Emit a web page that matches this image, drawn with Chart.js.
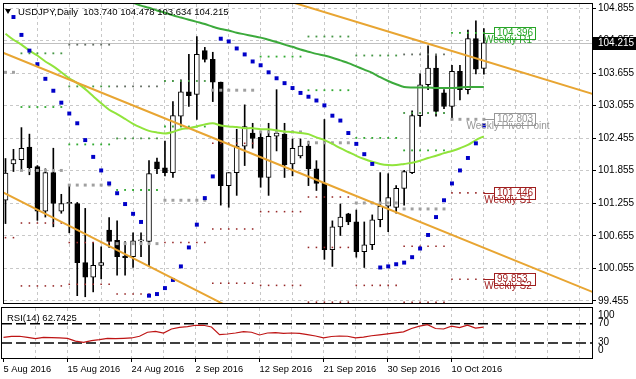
<!DOCTYPE html>
<html>
<head>
<meta charset="utf-8">
<title>USDJPY Daily</title>
<script src="https://cdn.jsdelivr.net/npm/chart.js@4.4.1/dist/chart.umd.min.js"></script>
<style>
  html, body { margin: 0; padding: 0; background: #ffffff; }
  #wrap { position: relative; width: 636px; height: 379px; overflow: hidden; background: #ffffff; }
  canvas { position: absolute; left: 0; }
  #priceChart { top: 0; }
  #rsiChart { top: 307px; }
</style>
</head>
<body>
<div id="wrap">
  <canvas id="priceChart" width="636" height="307"></canvas>
  <canvas id="rsiChart" width="636" height="72"></canvas>
</div>
<script>
// bar 0 = Fri 5 Aug 2016, the feed has Sunday bars (6 per week)
const titleText = "USDJPY,Daily  103.740 104.478 103.634 104.215";
const rsiTitle = "RSI(14) 62.7425";
const lastPrice = 104.215;

const opens  = [101.31, 101.98, 102.06, 102.29, 101.93, 101.11, 101.82, 101.11, 101.25, 101.25,
                100.16, 99.89, 100.11, 100.76, 100.57, 100.28, 100.27, 100.56, 100.55, 102.02,
                101.91, 101.82, 102.86, 103.31, 103.26, 104.07, 103.91, 103.49, 101.58, 101.82,
                102.31, 102.55, 102.47, 101.73, 102.49, 102.53, 101.98, 102.13, 102.31, 101.89,
                101.62, 100.40, 100.82, 101.06, 100.91, 100.36, 100.49, 100.95, 101.20, 101.18,
                101.53, 101.82, 102.87, 103.44, 103.75, 103.29, 103.04, 103.69, 103.35, 104.29,
                103.74];
const highs  = [102.08, 102.25, 102.65, 102.53, 101.95, 101.89, 102.27, 101.42, 101.60, 101.27,
                101.16, 100.53, 100.45, 100.99, 100.93, 100.55, 100.71, 100.71, 102.04, 102.09,
                102.40, 103.13, 103.53, 104.00, 104.33, 104.13, 104.04, 103.49, 101.82, 102.62,
                103.07, 102.73, 102.55, 102.73, 103.35, 102.73, 102.44, 102.44, 102.40, 102.04,
                102.80, 100.93, 101.24, 101.07, 101.13, 100.91, 101.04, 101.82, 101.80, 101.58,
                101.86, 102.96, 103.64, 104.16, 103.98, 103.35, 103.80, 103.80, 104.45, 104.62,
                104.478];
const lows   = [100.88, 101.84, 101.89, 101.78, 100.94, 101.00, 100.82, 101.07, 100.71, 99.55,
                99.53, 99.62, 99.86, 100.44, 99.93, 99.93, 100.07, 100.27, 100.09, 101.80,
                101.76, 101.73, 102.67, 103.04, 102.80, 103.86, 103.13, 101.22, 101.18, 101.40,
                101.95, 102.27, 101.55, 101.40, 102.22, 101.73, 101.76, 102.09, 101.58, 101.49,
                100.22, 100.09, 100.66, 100.86, 100.26, 100.07, 100.40, 100.82, 100.73, 101.07,
                101.22, 101.80, 102.67, 103.35, 102.86, 103.00, 102.80, 103.16, 103.27, 103.64,
                103.634];
const closes = [101.81, 102.06, 102.27, 101.91, 101.11, 101.82, 101.25, 101.25, 101.27, 100.16,
                99.89, 100.11, 100.16, 100.55, 100.27, 100.25, 100.56, 100.58, 101.80, 101.89,
                101.82, 102.87, 103.31, 103.24, 104.00, 103.91, 103.49, 101.58, 101.82, 102.31,
                102.67, 102.45, 101.73, 102.49, 102.55, 101.96, 102.27, 102.31, 101.89, 101.62,
                100.40, 100.82, 101.00, 100.91, 100.36, 100.49, 100.95, 101.20, 101.36, 101.53,
                101.84, 102.87, 103.44, 103.75, 102.95, 103.04, 103.69, 103.35, 104.29, 103.73,
                104.215];

const fastMA = [104.38, 104.27, 104.18, 104.07, 103.98, 103.87, 103.78, 103.67, 103.56, 103.47,
                103.36, 103.23, 103.10, 102.98, 102.90, 102.81, 102.72, 102.65, 102.59, 102.56,
                102.54, 102.57, 102.62, 102.64, 102.67, 102.71, 102.73, 102.69, 102.67, 102.66,
                102.64, 102.64, 102.62, 102.62, 102.60, 102.58, 102.57, 102.55, 102.53, 102.47,
                102.42, 102.35, 102.27, 102.20, 102.13, 102.07, 102.02, 101.98, 101.96, 101.96,
                101.98, 102.00, 102.04, 102.09, 102.13, 102.18, 102.22, 102.27, 102.33, 102.42,
                102.49];
const slowMA = [null, null, null, null, null, null, null, null, null, null,
                null, null, 105.05, 105.02, 104.99, 104.97, 104.95, 104.90, 104.86, 104.81,
                104.77, 104.72, 104.68, 104.64, 104.60, 104.56, 104.51, 104.47, 104.44, 104.40,
                104.37, 104.34, 104.31, 104.27, 104.23, 104.18, 104.14, 104.09, 104.05, 104.01,
                103.98, 103.94, 103.89, 103.84, 103.78, 103.72, 103.66, 103.58, 103.51, 103.45,
                103.40, 103.39, 103.39, 103.39, 103.38, 103.38, 103.38, 103.39, 103.40, 103.40,
                103.40];
const sar = [null, 104.69, 104.36, 104.07, 103.82, 103.55, 103.33, 103.11, 102.91, 102.73,
             102.42, 102.11, 101.86, 101.62, 101.44, 101.24, 101.06, 100.91, 99.55, 99.58,
             99.69, 99.84, 100.09, 100.44, 100.86, 101.35, 101.75, 104.29, 104.24, 104.11,
             104.00, 103.87, 103.80, 103.67, 103.56, 103.47, 103.38, 103.29, 103.22, 103.15,
             103.06, 102.87, 102.78, 102.55, 102.35, 102.16, 101.98, 100.07, 100.09, 100.13,
             100.16, 100.26, 100.42, 100.67, 101.00, 101.31, 101.62, 101.86, 102.09, 102.36,
             102.69];
const rsi = [41.8, 43.9, 44.0, 41.8, 38.9, 41.8, 41.0, 40.4, 39.7, 34.0,
             31.5, 35.0, 36.8, 39.7, 38.9, 39.7, 40.4, 43.9, 52.2, 54.2,
             50.7, 59.0, 62.5, 63.8, 66.7, 66.7, 63.2, 47.2, 48.6, 50.7,
             53.4, 52.2, 46.6, 50.7, 51.5, 50.0, 50.7, 50.0, 47.2, 44.5,
             40.5, 43.5, 44.5, 44.0, 40.5, 42.0, 45.0, 47.0, 49.0, 51.0,
             53.0, 60.0, 65.0, 68.0, 60.0, 59.0, 65.0, 62.0, 67.0, 61.0,
             62.74];
const rsiLevels = [70, 30];

// weekly pivot levels, one entry per week (Mon bar .. following Sun bar)
const weekStart = [0, 2, 8, 14, 20, 26, 32, 38, 44, 50, 56];
const weekEnd   = [1, 7, 13, 19, 25, 31, 37, 43, 49, 55, 60];
const pivotR3 = [null, null, 104.18, 103.41, null, null, null, null, null, 104.00, null];
const pivotR2 = [null, 104.02, 103.41, 102.45, 103.51, null, null, 104.33, 103.98, 102.92, null];
const pivotR1 = [null, 103.03, 102.34, 101.50, 102.67, null, 103.96, 103.34, 102.46, 102.23, 104.396];
const pivotP  = [103.67, 101.86, 101.59, 100.51, 101.31, 103.34, 102.57, 102.37, 101.26, 101.15, 102.803];
const pivotS1 = [100.62, 100.89, 100.53, 99.58, 100.53, 102.36, 101.10, 101.37, 99.74, 100.46, 101.446];
const pivotS2 = [null, 99.73, 99.76, null, null, 100.78, 99.74, 100.44, null, 99.43, 99.853];
const pivotS3 = [null, null, null, null, null, 99.78, null, 99.43, null, null, null];
const pivotTagNames  = ["Weekly R1", "Weekly Pivot Point", "Weekly S1", "Weekly S2"];
const pivotTagValues = [104.396, 102.803, 101.446, 99.853];
const pivotTagColors = ["rgb(40,165,40)", "rgb(150,150,150)", "rgb(160,30,30)", "rgb(160,30,30)"];

// trendlines: [fromBar, fromPrice, toBar, toPrice]
const trendUpper = [30, 105.229, 74, 103.254];
const trendMiddle = [-1, 104.073, 74, 99.597];
const trendLower = [-1, 101.507, 30, 99.196];

const priceTicks = [104.855, 104.255, 103.655, 103.055, 102.455, 101.855, 101.255, 100.655, 100.055, 99.455];
const rsiTickLabels = ["100", "70", "30", "0"];
const rsiTickAt = [88, 70, 31, 15];
const dateTickBars = [0, 8, 16, 24, 32, 40, 48, 56];
const dateTickLabels = ["5 Aug 2016", "15 Aug 2016", "24 Aug 2016", "2 Sep 2016",
                        "12 Sep 2016", "21 Sep 2016", "30 Sep 2016", "10 Oct 2016"];

// ---------------------------------------------------------------
Chart.defaults.font.family = '"Liberation Sans", Arial, sans-serif';
Chart.defaults.font.size = 10;
Chart.defaults.color = "#000";

const xMin = -0.1875, xMax = 73.5625;
const gridBars = [];
for (let b = 0; b <= 72; b += 4) gridBars.push(b);

const bars = opens.map((_, i) => i);
const pts = (arr) => arr.map((v, i) => ({ x: i, y: v }));
const weekPoints = (levels) => {
  const out = [];
  levels.forEach((v, w) => {
    if (v === null) return;
    for (let b = weekStart[w]; b <= weekEnd[w]; b++) out.push({ x: b, y: v });
  });
  return out;
};
const trendData = (t) => [{ x: t[0], y: t[1] }, { x: t[2], y: t[3] }];

const lineDs = (data, color, width, order) => ({
  type: "line", data, borderColor: color, borderWidth: width, pointRadius: 0,
  tension: 0.3, spanGaps: false, clip: 0, order
});
const dotDs = (data, color, radius, order) => ({
  type: "line", data, showLine: false, pointStyle: "rect", pointRadius: radius,
  pointBackgroundColor: color, pointBorderWidth: 0, clip: 0, order
});

// no extra room for half labels at the ends of an axis
const noPad = (s) => { s.paddingTop = 0; s.paddingBottom = 0; s.paddingLeft = 0; s.paddingRight = 0; };

const framePlugin = {
  id: "frame",
  afterDraw(chart) {
    const { ctx, chartArea: a } = chart;
    ctx.save();
    ctx.strokeStyle = "#000";
    ctx.lineWidth = 1;
    ctx.strokeRect(a.left - 0.5, a.top - 0.5, a.right - a.left + 1, a.bottom - a.top + 1);
    ctx.restore();
  }
};

const priceOverlay = {
  id: "priceOverlay",
  beforeDatasetsDraw(chart) {
    const { ctx, chartArea: a, scales: { y } } = chart;
    const py = Math.round(y.getPixelForValue(lastPrice)) + 0.5;
    ctx.save();
    ctx.strokeStyle = "#c0c0c0";
    ctx.lineWidth = 1;
    ctx.beginPath();
    ctx.moveTo(a.left, py);
    ctx.lineTo(a.right, py);
    ctx.stroke();
    ctx.restore();
  },
  afterDraw(chart) {
    const { ctx, scales: { x, y } } = chart;
    ctx.save();
    // title
    ctx.fillStyle = "#000";
    ctx.beginPath();
    ctx.moveTo(5, 9); ctx.lineTo(11, 9); ctx.lineTo(8, 14); ctx.closePath();
    ctx.fill();
    ctx.font = '9.5px "Liberation Sans", Arial, sans-serif';
    ctx.textBaseline = "middle";
    ctx.textAlign = "left";
    ctx.fillText(titleText, 18, 12);

    // weekly pivot tags
    const lastX = x.getPixelForValue(bars.length - 1);
    pivotTagValues.forEach((v, k) => {
      const py = Math.round(y.getPixelForValue(v)) + 0.5;
      const col = pivotTagColors[k];
      ctx.strokeStyle = col;
      ctx.lineWidth = 1;
      ctx.beginPath();
      ctx.moveTo(lastX, py);
      ctx.lineTo(494, py);
      ctx.stroke();
      ctx.fillStyle = "rgba(255,255,255,0.85)";
      ctx.fillRect(494.5, py - 6, 41, 12);
      ctx.strokeRect(494.5, py - 6, 41, 12);
      ctx.fillStyle = col;
      ctx.font = '10px "Liberation Sans", Arial, sans-serif';
      ctx.textAlign = "left";
      ctx.textBaseline = "middle";
      ctx.fillText(v.toFixed(3), 497, py);
      ctx.textAlign = "center";
      ctx.textBaseline = "top";
      ctx.fillText(pivotTagNames[k], 508, py + 1.5);
    });

    // last price box on the axis
    const cy = y.getPixelForValue(lastPrice);
    ctx.fillStyle = "#000";
    ctx.fillRect(593, Math.round(cy) - 6, 43, 13);
    ctx.fillStyle = "#fff";
    ctx.font = '10px "Liberation Sans", Arial, sans-serif';
    ctx.textAlign = "left";
    ctx.textBaseline = "middle";
    ctx.fillText(lastPrice.toFixed(3), 598, cy + 0.5);
    ctx.restore();
  }
};

const rsiOverlay = {
  id: "rsiOverlay",
  afterDraw(chart) {
    const { ctx } = chart;
    ctx.save();
    ctx.fillStyle = "#000";
    ctx.font = '9.5px "Liberation Sans", Arial, sans-serif';
    ctx.textBaseline = "middle";
    ctx.fillText(rsiTitle, 7, 11);
    ctx.restore();
  }
};

const xGrid = (showTicks) => ({
  color: (c) => (c.tick && c.tick.value === 0 ? "rgba(0,0,0,0)" : "#c8c8c8"),
  drawTicks: showTicks,
  tickLength: 4,
  tickColor: (c) => (c.tick && dateTickBars.includes(c.tick.value) ? "#000" : "rgba(0,0,0,0)"),
  tickBorderDash: [],
  offset: false
});

new Chart(document.getElementById("priceChart"), {
  type: "line",
  data: {
    datasets: [
      lineDs(trendData(trendUpper), "rgb(232,165,50)", 2, 1),
      lineDs(trendData(trendMiddle), "rgb(232,165,50)", 2, 1),
      lineDs(trendData(trendLower), "rgb(232,165,50)", 2, 1),
      dotDs(pts(sar), "rgb(0,0,200)", 2.8, 2),
      lineDs(pts(slowMA), "rgb(60,170,60)", 2, 3),
      lineDs(pts(fastMA), "rgb(145,228,60)", 2, 3),
      dotDs(weekPoints(pivotR3), "rgb(100,110,100)", 1.3, 4),
      dotDs(weekPoints(pivotR2), "rgb(70,150,70)", 1.3, 4),
      dotDs(weekPoints(pivotR1), "rgb(50,170,50)", 1.3, 4),
      dotDs(weekPoints(pivotP), "rgb(160,160,160)", 2.1, 4),
      dotDs(weekPoints(pivotS1), "rgb(150,40,40)", 1.1, 4),
      dotDs(weekPoints(pivotS2), "rgb(150,40,40)", 1.1, 4),
      dotDs(weekPoints(pivotS3), "rgb(150,40,40)", 1.1, 4),
      {
        type: "bar",
        data: bars.map((i) => ({ x: i, y: [opens[i], closes[i]] })),
        backgroundColor: bars.map((i) => (closes[i] >= opens[i] ? "#ffffff" : "#000000")),
        borderColor: "#000", borderWidth: 1, borderSkipped: false,
        barThickness: 5, minBarLength: 1, grouped: false, clip: 0, order: 8
      },
      {
        type: "bar",
        data: bars.map((i) => ({ x: i, y: [lows[i], highs[i]] })),
        backgroundColor: "#000", borderWidth: 0,
        barThickness: 1, grouped: false, clip: 0, order: 9
      }
    ]
  },
  options: {
    responsive: false, animation: false, devicePixelRatio: 1, events: [],
    layout: { padding: { left: 2, top: 2, right: 0, bottom: 3 } },
    plugins: { legend: { display: false }, tooltip: { enabled: false } },
    scales: {
      x: {
        type: "linear", min: xMin, max: xMax, bounds: "data", offset: false,
        afterBuildTicks: (s) => { s.ticks = gridBars.map((v) => ({ value: v })); },
        afterFit: (s) => { s.height = 0; noPad(s); },
        ticks: { display: false },
        grid: xGrid(false),
        border: { display: false, dash: [3, 3] }
      },
      y: {
        type: "linear", position: "right", min: 99.415, max: 104.93, bounds: "data", beginAtZero: false,
        afterBuildTicks: (s) => { s.ticks = priceTicks.map((v) => ({ value: v })); },
        afterFit: (s) => { s.width = 44; noPad(s); },
        ticks: { autoSkip: false, padding: 2, callback: (v) => Number(v).toFixed(3) },
        grid: { color: "#c8c8c8", tickColor: "#000", tickLength: 4, tickBorderDash: [] },
        border: { display: false, dash: [3, 3] }
      }
    }
  },
  plugins: [priceOverlay, framePlugin]
});

new Chart(document.getElementById("rsiChart"), {
  type: "line",
  data: {
    datasets: [
      ...rsiLevels.map((lv) => ({
        type: "line", data: [{ x: xMin, y: lv }, { x: xMax, y: lv }],
        borderColor: "#000", borderWidth: 1.5, borderDash: [10, 4], pointRadius: 0, clip: 0, order: 2
      })),
      {
        type: "line", data: pts(rsi), borderColor: "rgb(190,20,20)", borderWidth: 1.2,
        pointRadius: 0, tension: 0, clip: 0, order: 1
      }
    ]
  },
  options: {
    responsive: false, animation: false, devicePixelRatio: 1, events: [],
    layout: { padding: { left: 2, top: 1, right: 0, bottom: 0 } },
    plugins: { legend: { display: false }, tooltip: { enabled: false } },
    scales: {
      x: {
        type: "linear", min: xMin, max: xMax, bounds: "data", offset: false,
        afterBuildTicks: (s) => { s.ticks = gridBars.map((v) => ({ value: v })); },
        afterFit: (s) => { s.height = 21; noPad(s); },
        ticks: {
          autoSkip: false, maxRotation: 0, minRotation: 0, align: "start", padding: 2,
          font: { size: 9.3 },
          callback: (v) => {
            const k = dateTickBars.indexOf(v);
            return k >= 0 ? dateTickLabels[k] : "";
          }
        },
        grid: xGrid(true),
        border: { display: false, dash: [3, 3] }
      },
      y: {
        type: "linear", position: "right", min: -1.1, max: 102.5, bounds: "data",
        afterBuildTicks: (s) => { s.ticks = rsiTickAt.map((v) => ({ value: v })); },
        afterFit: (s) => { s.width = 44; noPad(s); },
        ticks: { autoSkip: false, padding: 2, callback: (v, i) => rsiTickLabels[i] },
        grid: { drawOnChartArea: false, tickLength: 4, tickColor: "rgba(0,0,0,0)" },
        border: { display: false }
      }
    }
  },
  plugins: [rsiOverlay, framePlugin]
});
</script>
</body>
</html>
